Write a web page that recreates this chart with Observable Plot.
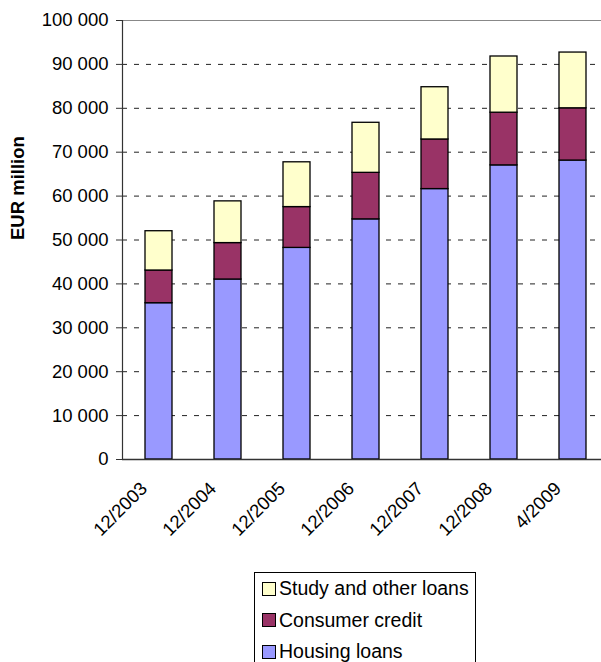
<!DOCTYPE html>
<html>
<head>
<meta charset="utf-8">
<script src="https://cdn.jsdelivr.net/npm/d3@7"></script>
<script src="https://cdn.jsdelivr.net/npm/@observablehq/plot@0.6"></script>
<style>
  html, body { margin: 0; padding: 0; background: #fff; overflow: hidden; }
  body { width: 601px; height: 662px; font-family: "Liberation Sans", Arial, sans-serif; }
  #legend {
    margin-top: 6px;
    margin-left: 254px;
    width: 222px;
    height: 110px;
    box-sizing: border-box;
    border: 1px solid #000;
    font-size: 19.5px;
    color: #000;
  }
  #legend .row { height: 31.5px; display: flex; align-items: center; padding-left: 7px; }
  #legend .sw { width: 12px; height: 12px; border: 1px solid #000; margin-right: 3px; flex: none; }
</style>
</head>
<body>
<div id="chart"></div>
<div id="legend"></div>
<script>
// Household loans by type, EUR million
const periods = ["12/2003", "12/2004", "12/2005", "12/2006", "12/2007", "12/2008", "4/2009"];
const housingLoans = [35600, 41000, 48200, 54700, 61600, 67000, 68100];
const consumerCredit = [7450, 8300, 9300, 10600, 11300, 12000, 11900];
const studyOtherLoans = [8950, 9500, 10200, 11400, 11900, 12800, 12700];

const seriesNames = ["Housing loans", "Consumer credit", "Study and other loans"];
const seriesColors = ["#9999FF", "#993366", "#FFFFCC"];
const yTicks = [0, 10000, 20000, 30000, 40000, 50000, 60000, 70000, 80000, 90000, 100000];

const seriesValues = [housingLoans, consumerCredit, studyOtherLoans];
const rows = [];
seriesNames.forEach((name, s) => {
  periods.forEach((p, i) => rows.push({period: p, type: name, value: seriesValues[s][i]}));
});

const fmt = (d) => d3.format(",")(d).replace(/,/g, " ");

const chart = Plot.plot({
  width: 601,
  height: 566,
  marginLeft: 122,
  marginRight: 0,
  marginTop: 20,
  marginBottom: 107,
  style: {fontFamily: "'Liberation Sans', Arial, sans-serif", fontSize: "18.5px", color: "#000", background: "#fff"},
  x: {domain: periods, range: [121.5, 609], paddingInner: 0.61, paddingOuter: 0.305},
  y: {domain: [0, 100000]},
  color: {domain: seriesNames, range: seriesColors},
  marks: [
    Plot.ruleY(yTicks.filter((d) => d > 0 && d < 100000), {stroke: "#222", strokeWidth: 1, strokeDasharray: "5,7"}),
    Plot.ruleY([100000], {stroke: "#888", strokeWidth: 1.2}),
    Plot.barY(rows, {x: "period", y: "value", fill: "type", stroke: "#000", strokeWidth: 1.3}),
    Plot.axisY({ticks: yTicks, tickFormat: fmt, tickSize: 6, tickPadding: 8, label: null, stroke: "#333"}),
    Plot.axisX({tickRotate: -45, tickSize: 0, tickPadding: 26, dx: -15, label: null}),
    Plot.frame({anchor: "left", stroke: "#333", strokeWidth: 1.2}),
    Plot.ruleY([0], {stroke: "#333", strokeWidth: 1.5}),
    Plot.text(["EUR million"], {frameAnchor: "left", dx: -104, rotate: -90, fontWeight: "bold", fontSize: 18.5, text: (d) => d})
  ]
});
document.getElementById("chart").appendChild(chart);

// Legend, top entry first as in the stacked order
const legend = document.getElementById("legend");
for (let s = seriesNames.length - 1; s >= 0; s--) {
  const row = document.createElement("div");
  row.className = "row";
  const sw = document.createElement("span");
  sw.className = "sw";
  sw.style.background = seriesColors[s];
  const label = document.createElement("span");
  label.textContent = seriesNames[s];
  row.appendChild(sw);
  row.appendChild(label);
  legend.appendChild(row);
}
</script>
</body>
</html>
